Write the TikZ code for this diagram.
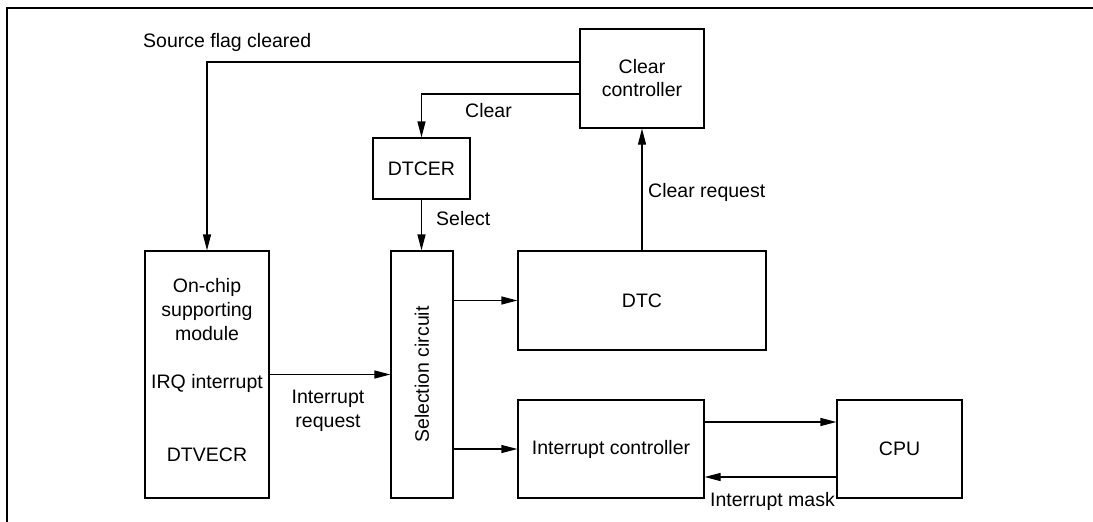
\documentclass[tikz,border=0pt]{standalone}
\usepackage{fontspec}
\setmainfont{Liberation Sans}
\usetikzlibrary{arrows.meta}
\begin{document}
\begin{tikzpicture}[x=1pt,y=-1pt,
  font=\fontsize{19.5}{24}\selectfont,
  box/.style={draw,line width=1.2pt,inner sep=0pt,align=center},
  arr/.style={line width=1.2pt,-{Triangle[length=16pt,width=8pt]}},
  lbl/.style={inner sep=0pt,align=center}]
\useasboundingbox (0,0) rectangle (1093,522);
% frame
\draw[line width=1.3pt] (7,522) -- (7,8) -- (1093,8);
% boxes
\node[box,minimum width=124pt,minimum height=99pt] (cc) at (642,78.5) {Clear\\[-1pt]controller};
\node[box,minimum width=97pt,minimum height=61pt] (dtcer) at (421.5,168.5) {DTCER};
\node[box,minimum width=62pt,minimum height=247pt] (sel) at (422,374.5) {};
\node[lbl,rotate=90] (seltext) at (sel.center) {Selection circuit};
\node[box,minimum width=124pt,minimum height=247pt] (onchip) at (207,374.5) {};
\node[lbl] (oc1) at (207,310) {On-chip\\supporting\\module};
\node[lbl] (oc2) at (207,383) {IRQ interrupt};
\node[lbl] (oc3) at (207,455) {DTVECR};
\node[box,minimum width=248pt,minimum height=99pt] (dtc) at (642,300.5) {DTC};
\node[box,minimum width=186pt,minimum height=98pt] (ic) at (611,449) {Interrupt controller};
\node[box,minimum width=125pt,minimum height=98pt] (cpu) at (899.5,449) {CPU};
% connectors
\draw[arr] ([yshift=16.5pt]cc.west) -| (onchip.north);
\draw[arr] ([yshift=-15.5pt]cc.west) -| (dtcer.north);
\draw[arr] (dtcer.south) -- (sel.north -| dtcer.south);
\draw[arr] (onchip.east) -- (sel.west);
\draw[arr] (sel.east |- dtc.west) -- (dtc.west);
\draw[arr] (sel.east |- ic.west) -- (ic.west);
\draw[arr] (dtc.north) -- (cc.south);
\draw[arr] ([yshift=27pt]ic.east) -- ([yshift=27pt]cpu.west);
\draw[arr] ([yshift=-28pt]cpu.west) -- ([yshift=-28pt]ic.east);
% labels
\node[lbl,anchor=west] (l1) at (143,42) {Source flag cleared};
\node[lbl,anchor=west] (l2) at (465,111) {Clear};
\node[lbl,anchor=west] (l3) at (436,219) {Select};
\node[lbl,anchor=west] (l4) at (648,192) {Clear request};
\node[lbl] (l5) at (328,411) {Interrupt\\request};
\node[lbl,anchor=west] (l6) at (710,501) {Interrupt mask};
\end{tikzpicture}
\end{document}
